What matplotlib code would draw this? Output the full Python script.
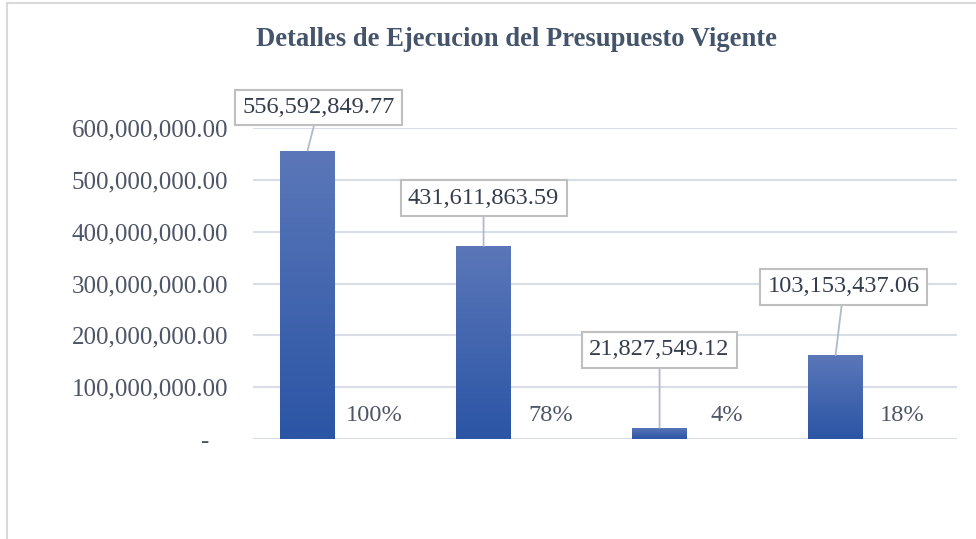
import numpy as np
import matplotlib
matplotlib.use("Agg")
from matplotlib import pyplot as plt
from matplotlib.lines import Line2D
from matplotlib.ticker import FuncFormatter

plt.rcParams['font.family'] = ['Liberation Serif', 'DejaVu Serif']

# datos
bar_values = [556.6e6, 372.5e6, 21.8e6, 162.0e6]   # alto de las barras
label_texts = ["556,592,849.77", "431,611,863.59", "21,827,549.12", "103,153,437.06"]
percentages = [100, 78, 4, 18]
y_ticks = [0, 100e6, 200e6, 300e6, 400e6, 500e6, 600e6]

title_color = '#44546A'
text_color = '#4D5566'
grid_color = '#D9DEE6'

fig = plt.figure(figsize=(9.76, 5.39), dpi=100)
ax = fig.add_axes([253 / 976, 0.1855, 704 / 976, 0.577])

x = np.arange(len(bar_values))
offset = 0.19
width = 0.3125

bars = ax.bar(x - offset, bar_values, width=width, color='none', zorder=3)

# degradado vertical en cada barra
grad = np.linspace(0, 1, 256).reshape(-1, 1)
cmap = matplotlib.colors.LinearSegmentedColormap.from_list('g', ['#2B55A5', '#5B77B9'])
for b in bars:
    x0, y0 = b.get_x(), b.get_y()
    w, h = b.get_width(), b.get_height()
    im = ax.imshow(grad, cmap=cmap, origin='lower', aspect='auto',
                   extent=(x0, x0 + w, y0, y0 + h), zorder=3)
    im.set_clip_path(b)

ax.set_xlim(-0.5, 3.5)
ax.set_ylim(0, 600e6)
ax.set_yticks(y_ticks)
ax.yaxis.set_major_formatter(FuncFormatter(lambda v, p: "-   " if v == 0 else f"{v:,.2f}"))
ax.tick_params(axis='y', length=0, labelsize=18, labelcolor=text_color, pad=18)
ax.set_xticks([])
ax.grid(axis='y', color=grid_color, linewidth=1.5, zorder=0)
for s in ax.spines.values():
    s.set_visible(False)
ax.axhline(0, color=grid_color, linewidth=1.5, zorder=1)

# etiquetas con recuadro y linea guia
label_offsets = [(8, 31), (0, 34.5), (0, 56), (6, 49)]
for i, (v, txt) in enumerate(zip(bar_values, label_texts)):
    ax.annotate(txt, xy=(i - offset, v), xytext=label_offsets[i], textcoords='offset points',
                ha='center', va='center', fontsize=17.6, color='#333D4D',
                bbox=dict(boxstyle='square,pad=0.3', fc='white', ec='#BFBFBF', lw=1.5),
                arrowprops=dict(arrowstyle='-', color='#AEBBCB', lw=1.3, shrinkA=0, shrinkB=0),
                annotation_clip=False, zorder=5)

# porcentajes
for i, p in enumerate(percentages):
    ax.annotate(f"{p}%", xy=(i + offset, 0), xytext=(0, 17), textcoords='offset points',
                ha='center', va='center', fontsize=17.6, color=text_color)

fig.text(0.529, 0.927, "Detalles de Ejecucion del Presupuesto Vigente", ha='center', va='center',
         fontsize=19.2, fontweight='bold', color=title_color)

# marco del area del grafico
fig.add_artist(Line2D([7 / 976, 7 / 976], [0, 1 - 3 / 539], transform=fig.transFigure,
                      color='#D9D9D9', lw=1.5))
fig.add_artist(Line2D([7 / 976, 1], [1 - 3 / 539, 1 - 3 / 539], transform=fig.transFigure,
                      color='#D9D9D9', lw=1.5))

fig.savefig('out.png', dpi=100)
